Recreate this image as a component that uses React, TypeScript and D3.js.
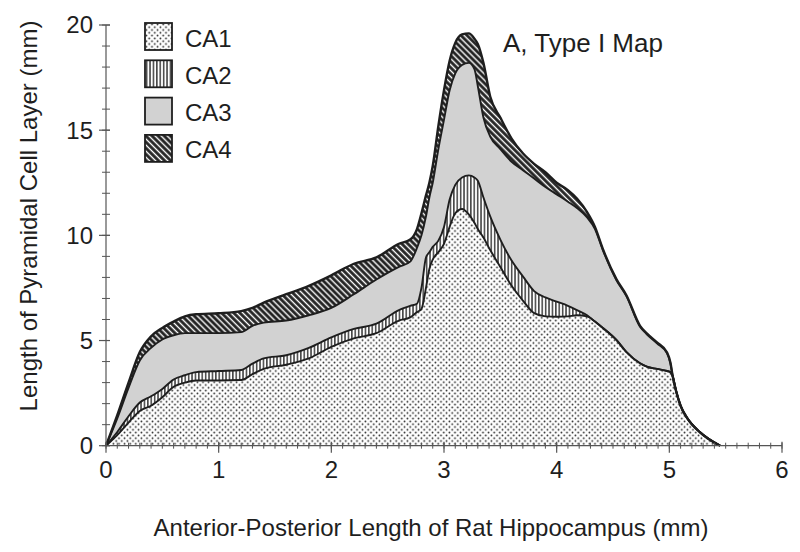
import React from "react";
import * as d3 from "d3";

const xs = [0, 0.1, 0.2, 0.3, 0.4, 0.5, 0.6, 0.7, 0.8, 1.0, 1.2, 1.3, 1.4, 1.6, 1.8, 2.0, 2.2, 2.4, 2.6, 2.7, 2.76, 2.8, 2.84, 2.87, 2.9, 2.95, 3.0, 3.05, 3.1, 3.16, 3.22, 3.27, 3.3, 3.35, 3.41, 3.5, 3.6, 3.7, 3.8, 3.9, 4.0, 4.1, 4.18, 4.27, 4.34, 4.41, 4.53, 4.62, 4.74, 4.8, 4.89, 4.98, 5.01, 5.03, 5.06, 5.1, 5.16, 5.27, 5.45];
const ca1 = [0, 0.5, 1.1, 1.65, 1.9, 2.3, 2.8, 3.0, 3.1, 3.1, 3.12, 3.4, 3.65, 3.85, 4.15, 4.7, 5.1, 5.35, 5.95, 6.1, 6.35, 6.5, 7.5, 8.4, 8.85, 9.2, 9.6, 10.4, 11.05, 11.25, 11.0, 10.6, 10.3, 9.9, 9.3, 8.5, 7.6, 6.9, 6.3, 6.15, 6.13, 6.15, 6.2, 6.15, 5.9, 5.6, 5.03, 4.45, 3.92, 3.76, 3.65, 3.55, 3.5, 3.3, 2.6, 1.9, 1.3, 0.65, 0];
const ca2 = [0, 0.15, 0.3, 0.4, 0.45, 0.4, 0.35, 0.35, 0.4, 0.45, 0.48, 0.5, 0.5, 0.45, 0.5, 0.45, 0.45, 0.45, 0.5, 0.55, 0.4, 1.0, 1.45, 0.8, 0.6, 0.55, 0.8, 1.3, 1.35, 1.5, 1.85, 2.15, 2.3, 1.9, 1.6, 1.3, 1.2, 1.15, 1.05, 0.9, 0.72, 0.5, 0.25, 0.05, 0, 0, 0, 0, 0, 0, 0, 0, 0, 0, 0, 0, 0, 0, 0];
const ca3 = [0, 0.65, 1.35, 2.0, 2.3, 2.35, 2.1, 2.0, 1.85, 1.8, 1.8, 1.8, 1.7, 1.65, 1.55, 1.4, 1.65, 2.1, 2.05, 2.1, 2.65, 2.5, 1.95, 2.6, 3.05, 4.35, 5.1, 5.2, 5.3, 5.35, 5.35, 5.15, 4.5, 3.8, 3.8, 4.3, 4.7, 5.05, 5.35, 5.25, 5.1, 4.95, 4.85, 4.65, 4.4, 3.7, 2.85, 2.65, 1.74, 1.54, 1.22, 0.84, 0.4, 0, 0, 0, 0, 0, 0];
const ca4 = [0, 0.15, 0.25, 0.4, 0.55, 0.55, 0.65, 0.8, 0.9, 0.95, 1.0, 0.85, 0.95, 1.25, 1.4, 1.55, 1.45, 1.05, 1.1, 1.05, 0.9, 1.05, 1.0, 0.7, 0.8, 1.1, 1.4, 1.4, 1.45, 1.45, 1.4, 1.45, 2.0, 2.6, 1.9, 1.5, 1.1, 0.8, 0.7, 0.7, 0.55, 0.55, 0.45, 0.25, 0.1, 0.05, 0.04, 0.04, 0.04, 0.04, 0.04, 0.04, 0.04, 0, 0, 0, 0, 0, 0];

const seriesKeys = ["CA1", "CA2", "CA3", "CA4"];
const xTickLabels = [0, 1, 2, 3, 4, 5, 6];
const yTickLabels = [0, 5, 10, 15, 20];
const title = "A, Type I Map";
const xTitle = "Anterior-Posterior Length of Rat Hippocampus (mm)";
const yTitle = "Length of Pyramidal Cell Layer (mm)";

const W = 800;
const H = 552;
const FONT = "'Liberation Sans', Arial, Helvetica, sans-serif";
const INK = "#1e1e1e";
const AXIS = "#555";

export default function App() {
  const x = d3.scaleLinear().domain([0, 6]).range([106, 782]);
  const y = d3.scaleLinear().domain([0, 20]).range([445.7, 25]);

  const rows = xs.map((v, i) => ({ x: v, CA1: ca1[i], CA2: ca2[i], CA3: ca3[i], CA4: ca4[i] }));
  const stacked = d3.stack<any>().keys(seriesKeys)(rows);

  const area = d3
    .area<any>()
    .x((d) => x(d.data.x))
    .y0((d) => y(d[0]))
    .y1((d) => y(d[1]))
    .curve(d3.curveMonotoneX);
  const line = d3
    .line<any>()
    .x((d) => x(d.data.x))
    .y((d) => y(d[1]))
    .curve(d3.curveMonotoneX);

  const fills: Record<string, string> = {
    CA1: "url(#pCA1)",
    CA2: "url(#pCA2)",
    CA3: "#d2d2d2",
    CA4: "url(#pCA4)",
  };

  const xMinor = d3.range(0, 61).map((i) => i / 10);
  const yMinor = d3.range(0, 21);

  const legendTop = 23;
  const legendStep = 37.3;

  return (
    <svg width={W} height={H} style={{ position: "absolute", left: 0, top: 0, background: "#fff" }}>
      <defs>
        <pattern id="pCA1" patternUnits="userSpaceOnUse" width={5.6} height={5.6}>
          <rect width={5.6} height={5.6} fill="#fff" />
          <circle cx={1.4} cy={1.4} r={0.9} fill="#222" />
          <circle cx={4.2} cy={4.2} r={0.9} fill="#222" />
        </pattern>
        <pattern id="pCA2" patternUnits="userSpaceOnUse" width={3.4} height={10}>
          <rect width={3.4} height={10} fill="#fff" />
          <rect x={1.0} y={0} width={1.3} height={10} fill="#222" />
        </pattern>
        <pattern id="pCA4" patternUnits="userSpaceOnUse" width={10} height={4.3} patternTransform="rotate(45)">
          <rect width={10} height={4.3} fill="#222" />
          <rect x={0} y={1.5} width={10} height={1.4} fill="#fff" />
        </pattern>
      </defs>

      {/* areas */}
      {stacked.map((s) => (
        <path key={s.key} d={area(s) || ""} fill={fills[s.key]} stroke="none" />
      ))}
      {/* boundary lines */}
      {stacked.map((s) => (
        <path
          key={"l" + s.key}
          d={line(s) || ""}
          fill="none"
          stroke={INK}
          strokeWidth={s.key === "CA4" ? 2.4 : 1.9}
          strokeLinejoin="round"
        />
      ))}

      {/* x axis */}
      <line x1={x(0)} x2={x(6)} y1={y(0)} y2={y(0)} stroke={AXIS} strokeWidth={1.2} />
      {xMinor.map((t) => (
        <line key={"xm" + t} x1={x(t)} x2={x(t)} y1={y(0) - 3} y2={y(0) + 3} stroke={AXIS} strokeWidth={1} />
      ))}
      {xTickLabels.map((t) => (
        <g key={"xt" + t}>
          <line x1={x(t)} x2={x(t)} y1={y(0) - 4} y2={y(0) + 7} stroke={AXIS} strokeWidth={1.2} />
          <text x={x(t)} y={478} textAnchor="middle" fontFamily={FONT} fontSize={24} fill={INK}>
            {t}
          </text>
        </g>
      ))}

      {/* y axis */}
      <line x1={x(0)} x2={x(0)} y1={y(0)} y2={y(20)} stroke={AXIS} strokeWidth={1.2} />
      {yMinor.map((t) => (
        <line key={"ym" + t} x1={x(0) - 4} x2={x(0) + 4} y1={y(t)} y2={y(t)} stroke={AXIS} strokeWidth={1} />
      ))}
      {yTickLabels.map((t) => (
        <g key={"yt" + t}>
          <line x1={x(0) - 7} x2={x(0) + 4} y1={y(t)} y2={y(t)} stroke={AXIS} strokeWidth={1.2} />
          <text x={93} y={y(t)} dy="0.35em" textAnchor="end" fontFamily={FONT} fontSize={24} fill={INK}>
            {t}
          </text>
        </g>
      ))}

      {/* axis titles */}
      <text x={431} y={536} textAnchor="middle" fontFamily={FONT} fontSize={24} fill={INK}>
        {xTitle}
      </text>
      <text
        transform={`translate(37,216) rotate(-90)`}
        textAnchor="middle"
        fontFamily={FONT}
        fontSize={24}
        fill={INK}
      >
        {yTitle}
      </text>

      {/* title */}
      <text x={503} y={52} fontFamily={FONT} fontSize={26} fill={INK}>
        {title}
      </text>

      {/* legend */}
      {seriesKeys.map((k, i) => (
        <g key={"lg" + k} transform={`translate(145,${legendTop + i * legendStep})`}>
          <rect x={0} y={0} width={27} height={27} fill={fills[k]} stroke={INK} strokeWidth={1.8} />
          <text x={40} y={23.5} fontFamily={FONT} fontSize={24} fill={INK}>
            {k}
          </text>
        </g>
      ))}
    </svg>
  );
}
